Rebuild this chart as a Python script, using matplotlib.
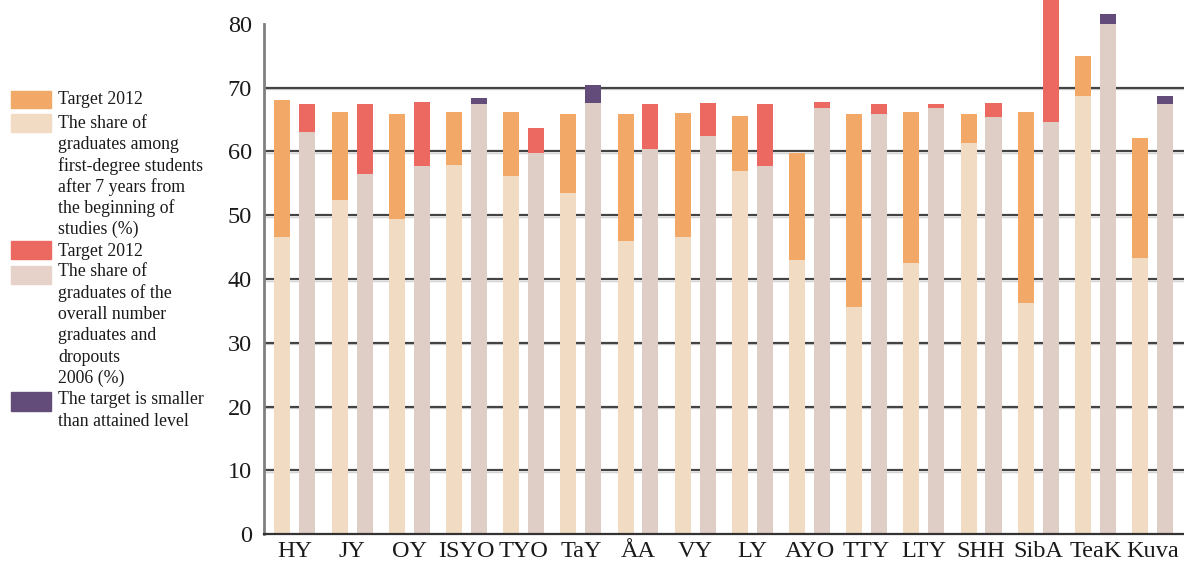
import matplotlib
matplotlib.use("Agg")
import matplotlib.pyplot as plt
from matplotlib.patches import Rectangle
import numpy as np

plt.rcParams['font.family'] = ['Liberation Serif', 'DejaVu Serif']

# Institutions
categories = ["HY", "JY", "OY", "ISYO", "TYO", "TaY", "ÅA", "VY", "LY",
              "AYO", "TTY", "LTY", "SHH", "SibA", "TeaK", "Kuva"]

# Graduates among first-degree students after 7 years (%) and 2012 target
share_7yr = [46.6, 52.4, 49.4, 57.9, 56.2, 53.5, 45.9, 46.6, 56.9,
             43.0, 35.6, 42.5, 61.3, 36.3, 68.7, 43.3]
target_7yr = [68.1, 66.2, 65.9, 66.2, 66.2, 65.9, 65.9, 66.0, 65.6,
              59.8, 65.9, 66.2, 65.9, 66.2, 75.0, 62.1]

# Graduates of all graduates and dropouts 2006 (%) and 2012 target
share_all = [63.1, 56.4, 57.7, 68.4, 59.8, 70.4, 60.4, 62.4, 57.7,
             66.8, 65.8, 66.8, 65.4, 64.6, 81.6, 68.7]
target_all = [67.4, 67.4, 67.8, 67.4, 63.7, 67.6, 67.4, 67.6, 67.4,
              67.8, 67.4, 67.4, 67.6, 86.0, 80.0, 67.4]

yticks = [0, 10, 20, 30, 40, 50, 60, 70, 80]

C_TARGET1 = "#F2A866"
C_SHARE1 = "#F2DBC3"
C_TARGET2 = "#EC6962"
C_SHARE2 = "#DFCEC6"
C_BELOW = "#634C79"

fig = plt.figure(figsize=(11.84, 5.62), dpi=100)
ax = fig.add_axes([263.5 / 1184, 1 - 534.3 / 562, 1 - 263.5 / 1184, (534.3 - 23.9) / 562])

x = np.arange(len(categories))
w = 0.28
off = 0.218


def stacked(xpos, share, target, c_share, c_up):
    share = np.asarray(share)
    target = np.asarray(target)
    lo = np.minimum(share, target)
    hi = np.maximum(share, target)
    ax.bar(xpos, lo, width=w, color=c_share, zorder=3, clip_on=False)
    colors = [c_up if t > s else C_BELOW for s, t in zip(share, target)]
    ax.bar(xpos, hi - lo, bottom=lo, width=w, color=colors, zorder=3, clip_on=False)


stacked(x - off, share_7yr, target_7yr, C_SHARE1, C_TARGET1)
stacked(x + off, share_all, target_all, C_SHARE2, C_TARGET2)

# Horizontal grid (no line at the top value)
for yv in yticks[1:-1]:
    ax.axhline(yv - 0.22, color="#d4d4d4", lw=1.0, zorder=1)
    ax.axhline(yv, color="#444444", lw=1.6, zorder=2)

ax.set_xlim(-0.55, 15.55)
ax.set_ylim(0, 80)
ax.set_yticks(yticks)
ax.set_xticks(x)
ax.set_xticklabels(categories)
ax.tick_params(axis='both', length=0, labelsize=17.5, colors="#1a1a1a")
ax.tick_params(axis='y', pad=8.5)
ax.tick_params(axis='x', pad=5)

for s in ("top", "right"):
    ax.spines[s].set_visible(False)
ax.spines["left"].set_color("#808080")
ax.spines["left"].set_linewidth(2)
ax.spines["bottom"].set_color("#333333")
ax.spines["bottom"].set_linewidth(1.6)
ax.spines["bottom"].set_zorder(4)

# Legend drawn by hand on the left
H = 562.0
W = 1184.0


def swatch(y0, y1, color):
    fig.patches.append(Rectangle((11 / W, 1 - y1 / H), 40 / W, (y1 - y0) / H,
                                 transform=fig.transFigure, color=color))


def lines(y_first, texts, step=21.3):
    for k, t in enumerate(texts):
        fig.text(58 / W, 1 - (y_first + k * step) / H, t, fontsize=12.8,
                 va="center", ha="left", color="#1a1a1a")


swatch(91, 108, C_TARGET1)
lines(100, ["Target 2012"])
swatch(114, 132, C_SHARE1)
lines(123, ["The share of", "graduates among", "first-degree students",
            "after 7 years from", "the beginning of", "studies (%)"])
swatch(241, 259, C_TARGET2)
lines(251, ["Target 2012"])
swatch(266, 284, "#E6D2C9")
lines(272, ["The share of", "graduates of the", "overall number",
            "graduates and", "dropouts", "2006 (%)"])
swatch(392, 411, C_BELOW)
lines(400, ["The target is smaller", "than attained level"])

fig.savefig("out.png", dpi=100)
